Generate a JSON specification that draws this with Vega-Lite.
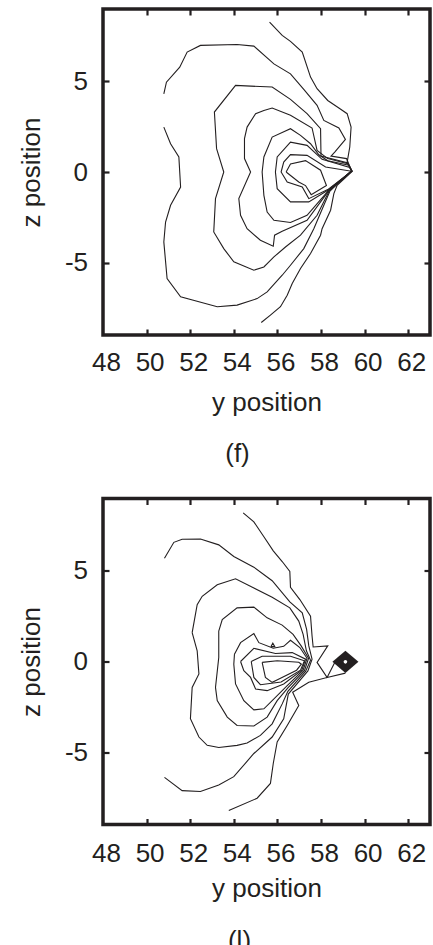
{
  "$schema": "https://vega.github.io/schema/vega-lite/v6.json",
  "padding": {"left": 17, "top": 6, "right": 0, "bottom": 0},
  "background": "white",
  "bounds": "flush",
  "spacing": 163.5,
  "config": {
    "view": {"stroke": "#231f20", "strokeWidth": 3.5},
    "font": "Liberation Sans",
    "axis": {
      "labelFont": "Liberation Sans", "titleFont": "Liberation Sans",
      "labelColor": "#231f20", "titleColor": "#231f20", "tickColor": "#231f20",
      "labelFontSize": 26, "titleFontSize": 26, "titleFontWeight": "normal",
      "domain": false, "grid": false, "tickSize": -6, "tickWidth": 2.2,
      "labelOverlap": false, "labelFlush": false
    }
  },
  "datasets": {
    "contours": [
      {"p":"f","c":"R","o":0,"x":55.64,"y":8.27},{"p":"f","c":"R","o":1,"x":56.22,"y":7.54},{"p":"f","c":"R","o":2,"x":56.60,"y":7.21},{"p":"f","c":"R","o":3,"x":57.14,"y":6.62},{"p":"f","c":"R","o":4,"x":57.52,"y":5.24},{"p":"f","c":"R","o":5,"x":57.82,"y":4.60},{"p":"f","c":"R","o":6,"x":58.31,"y":3.95},{"p":"f","c":"R","o":7,"x":58.82,"y":3.53},{"p":"f","c":"R","o":8,"x":59.20,"y":3.22},{"p":"f","c":"R","o":9,"x":59.38,"y":2.48},{"p":"f","c":"R","o":10,"x":59.32,"y":1.38},{"p":"f","c":"R","o":11,"x":59.20,"y":0.55},{"p":"f","c":"R","o":12,"x":59.43,"y":0.04},{"p":"f","c":"R","o":13,"x":58.74,"y":-0.74},{"p":"f","c":"R","o":14,"x":58.59,"y":-1.19},{"p":"f","c":"R","o":15,"x":58.44,"y":-2.11},{"p":"f","c":"R","o":16,"x":58.05,"y":-3.13},{"p":"f","c":"R","o":17,"x":57.98,"y":-3.49},{"p":"f","c":"R","o":18,"x":57.52,"y":-4.50},{"p":"f","c":"R","o":19,"x":57.06,"y":-5.33},{"p":"f","c":"R","o":20,"x":56.68,"y":-6.16},{"p":"f","c":"R","o":21,"x":56.45,"y":-6.80},{"p":"f","c":"R","o":22,"x":56.14,"y":-7.44},{"p":"f","c":"R","o":23,"x":55.68,"y":-7.90},{"p":"f","c":"R","o":24,"x":55.26,"y":-8.31},
      {"p":"f","c":"C1","o":0,"x":50.79,"y":4.32},{"p":"f","c":"C1","o":1,"x":50.91,"y":4.96},{"p":"f","c":"C1","o":2,"x":51.52,"y":5.79},{"p":"f","c":"C1","o":3,"x":51.86,"y":6.62},{"p":"f","c":"C1","o":4,"x":52.47,"y":6.99},{"p":"f","c":"C1","o":5,"x":54.15,"y":7.04},{"p":"f","c":"C1","o":6,"x":54.92,"y":6.95},{"p":"f","c":"C1","o":7,"x":55.84,"y":5.97},{"p":"f","c":"C1","o":8,"x":56.60,"y":5.42},{"p":"f","c":"C1","o":9,"x":57.21,"y":4.56},{"p":"f","c":"C1","o":10,"x":57.82,"y":3.68},{"p":"f","c":"C1","o":11,"x":58.13,"y":2.85},{"p":"f","c":"C1","o":12,"x":58.82,"y":2.43},{"p":"f","c":"C1","o":13,"x":59.12,"y":1.80},{"p":"f","c":"C1","o":14,"x":58.63,"y":1.10},{"p":"f","c":"C1","o":15,"x":58.46,"y":0.88},{"p":"f","c":"C1","o":16,"x":59.17,"y":0.74},{"p":"f","c":"C1","o":17,"x":59.40,"y":0.07},{"p":"f","c":"C1","o":18,"x":58.41,"y":-1.05},{"p":"f","c":"C1","o":19,"x":58.13,"y":-1.84},{"p":"f","c":"C1","o":20,"x":57.67,"y":-3.13},{"p":"f","c":"C1","o":21,"x":57.21,"y":-4.23},{"p":"f","c":"C1","o":22,"x":56.60,"y":-5.15},{"p":"f","c":"C1","o":23,"x":56.22,"y":-5.70},{"p":"f","c":"C1","o":24,"x":55.53,"y":-6.62},{"p":"f","c":"C1","o":25,"x":55.07,"y":-6.99},{"p":"f","c":"C1","o":26,"x":54.15,"y":-7.35},{"p":"f","c":"C1","o":27,"x":53.24,"y":-7.44},{"p":"f","c":"C1","o":28,"x":51.56,"y":-6.89},{"p":"f","c":"C1","o":29,"x":50.94,"y":-5.88},{"p":"f","c":"C1","o":30,"x":50.79,"y":-3.86},{"p":"f","c":"C1","o":31,"x":50.87,"y":-2.76},{"p":"f","c":"C1","o":32,"x":51.10,"y":-1.84},{"p":"f","c":"C1","o":33,"x":51.56,"y":-0.83},{"p":"f","c":"C1","o":34,"x":51.48,"y":0.83},{"p":"f","c":"C1","o":35,"x":51.10,"y":1.56},{"p":"f","c":"C1","o":36,"x":50.79,"y":2.48},
      {"p":"f","c":"C2","o":0,"x":58.38,"y":-1.03},{"p":"f","c":"C2","o":1,"x":57.82,"y":-2.39},{"p":"f","c":"C2","o":2,"x":57.06,"y":-3.49},{"p":"f","c":"C2","o":3,"x":56.37,"y":-4.14},{"p":"f","c":"C2","o":4,"x":55.84,"y":-4.69},{"p":"f","c":"C2","o":5,"x":55.38,"y":-5.24},{"p":"f","c":"C2","o":6,"x":54.92,"y":-5.42},{"p":"f","c":"C2","o":7,"x":54.00,"y":-4.96},{"p":"f","c":"C2","o":8,"x":53.54,"y":-4.23},{"p":"f","c":"C2","o":9,"x":53.08,"y":-3.31},{"p":"f","c":"C2","o":10,"x":53.16,"y":-1.47},{"p":"f","c":"C2","o":11,"x":53.54,"y":0},{"p":"f","c":"C2","o":12,"x":53.21,"y":1.29},{"p":"f","c":"C2","o":13,"x":53.11,"y":3.31},{"p":"f","c":"C2","o":14,"x":54.08,"y":4.78},{"p":"f","c":"C2","o":15,"x":55.76,"y":4.69},{"p":"f","c":"C2","o":16,"x":56.60,"y":4.01},{"p":"f","c":"C2","o":17,"x":57.36,"y":3.22},{"p":"f","c":"C2","o":18,"x":57.98,"y":2.39},{"p":"f","c":"C2","o":19,"x":58.00,"y":0.88},{"p":"f","c":"C2","o":20,"x":59.20,"y":0.51},{"p":"f","c":"C2","o":21,"x":59.41,"y":0.06},{"p":"f","c":"C2","o":22,"x":58.38,"y":-1.03},
      {"p":"f","c":"C3","o":0,"x":58.36,"y":-1.03},{"p":"f","c":"C3","o":1,"x":57.36,"y":-2.67},{"p":"f","c":"C3","o":2,"x":56.22,"y":-3.27},{"p":"f","c":"C3","o":3,"x":55.87,"y":-3.49},{"p":"f","c":"C3","o":4,"x":55.81,"y":-4.10},{"p":"f","c":"C3","o":5,"x":55.22,"y":-3.77},{"p":"f","c":"C3","o":6,"x":54.61,"y":-3.13},{"p":"f","c":"C3","o":7,"x":54.31,"y":-2.39},{"p":"f","c":"C3","o":8,"x":54.23,"y":-1.47},{"p":"f","c":"C3","o":9,"x":54.77,"y":0},{"p":"f","c":"C3","o":10,"x":54.49,"y":0.74},{"p":"f","c":"C3","o":11,"x":54.49,"y":1.84},{"p":"f","c":"C3","o":12,"x":54.61,"y":2.48},{"p":"f","c":"C3","o":13,"x":55.00,"y":3.22},{"p":"f","c":"C3","o":14,"x":55.38,"y":3.40},{"p":"f","c":"C3","o":15,"x":55.76,"y":3.53},{"p":"f","c":"C3","o":16,"x":56.60,"y":3.13},{"p":"f","c":"C3","o":17,"x":57.59,"y":2.43},{"p":"f","c":"C3","o":18,"x":57.82,"y":1.19},{"p":"f","c":"C3","o":19,"x":58.31,"y":0.74},{"p":"f","c":"C3","o":20,"x":59.23,"y":0.46},{"p":"f","c":"C3","o":21,"x":59.41,"y":0.06},{"p":"f","c":"C3","o":22,"x":58.36,"y":-1.03},
      {"p":"f","c":"C4","o":0,"x":58.35,"y":-1.01},{"p":"f","c":"C4","o":1,"x":57.36,"y":-2.39},{"p":"f","c":"C4","o":2,"x":56.60,"y":-2.79},{"p":"f","c":"C4","o":3,"x":55.84,"y":-2.67},{"p":"f","c":"C4","o":4,"x":55.53,"y":-2.21},{"p":"f","c":"C4","o":5,"x":55.38,"y":-1.29},{"p":"f","c":"C4","o":6,"x":55.30,"y":0},{"p":"f","c":"C4","o":7,"x":55.38,"y":0.83},{"p":"f","c":"C4","o":8,"x":55.76,"y":1.93},{"p":"f","c":"C4","o":9,"x":56.60,"y":2.39},{"p":"f","c":"C4","o":10,"x":57.06,"y":2.02},{"p":"f","c":"C4","o":11,"x":57.52,"y":1.56},{"p":"f","c":"C4","o":12,"x":57.90,"y":0.95},{"p":"f","c":"C4","o":13,"x":58.31,"y":0.62},{"p":"f","c":"C4","o":14,"x":59.28,"y":0.37},{"p":"f","c":"C4","o":15,"x":59.41,"y":0.06},{"p":"f","c":"C4","o":16,"x":58.35,"y":-1.01},
      {"p":"f","c":"C5","o":0,"x":58.33,"y":-0.99},{"p":"f","c":"C5","o":1,"x":57.44,"y":-1.65},{"p":"f","c":"C5","o":2,"x":56.60,"y":-1.65},{"p":"f","c":"C5","o":3,"x":55.99,"y":-0.92},{"p":"f","c":"C5","o":4,"x":55.91,"y":0},{"p":"f","c":"C5","o":5,"x":55.99,"y":0.83},{"p":"f","c":"C5","o":6,"x":56.60,"y":1.65},{"p":"f","c":"C5","o":7,"x":57.36,"y":1.47},{"p":"f","c":"C5","o":8,"x":58.05,"y":0.70},{"p":"f","c":"C5","o":9,"x":59.32,"y":0.25},{"p":"f","c":"C5","o":10,"x":59.41,"y":0.05},{"p":"f","c":"C5","o":11,"x":58.33,"y":-0.99},
      {"p":"f","c":"C6","o":0,"x":58.31,"y":-0.97},{"p":"f","c":"C6","o":1,"x":57.44,"y":-1.47},{"p":"f","c":"C6","o":2,"x":57.14,"y":-0.83},{"p":"f","c":"C6","o":3,"x":56.45,"y":-0.55},{"p":"f","c":"C6","o":4,"x":56.17,"y":0},{"p":"f","c":"C6","o":5,"x":56.29,"y":0.55},{"p":"f","c":"C6","o":6,"x":56.60,"y":0.96},{"p":"f","c":"C6","o":7,"x":57.36,"y":0.92},{"p":"f","c":"C6","o":8,"x":58.21,"y":0.28},{"p":"f","c":"C6","o":9,"x":59.41,"y":0.04},{"p":"f","c":"C6","o":10,"x":58.31,"y":-0.97},
      {"p":"f","c":"C7","o":0,"x":56.40,"y":0},{"p":"f","c":"C7","o":1,"x":56.60,"y":0.44},{"p":"f","c":"C7","o":2,"x":57.29,"y":0.63},{"p":"f","c":"C7","o":3,"x":57.98,"y":0.10},{"p":"f","c":"C7","o":4,"x":58.25,"y":-0.75},{"p":"f","c":"C7","o":5,"x":57.55,"y":-1.25},{"p":"f","c":"C7","o":6,"x":57.29,"y":-0.75},{"p":"f","c":"C7","o":7,"x":56.98,"y":-0.55},{"p":"f","c":"C7","o":8,"x":56.40,"y":0},

      {"p":"l","c":"R","o":0,"x":54.43,"y":8.21},{"p":"l","c":"R","o":1,"x":54.92,"y":7.71},{"p":"l","c":"R","o":2,"x":55.38,"y":6.89},{"p":"l","c":"R","o":3,"x":55.81,"y":6.11},{"p":"l","c":"R","o":4,"x":56.22,"y":5.52},{"p":"l","c":"R","o":5,"x":56.57,"y":4.97},{"p":"l","c":"R","o":6,"x":56.60,"y":4.10},{"p":"l","c":"R","o":7,"x":57.03,"y":3.42},{"p":"l","c":"R","o":8,"x":57.52,"y":2.50},{"p":"l","c":"R","o":9,"x":57.59,"y":1.41},{"p":"l","c":"R","o":10,"x":57.64,"y":0.80},{"p":"l","c":"R","o":11,"x":58.31,"y":0.86},{"p":"l","c":"R","o":12,"x":57.82,"y":-0.05},{"p":"l","c":"R","o":13,"x":58.28,"y":-0.88},{"p":"l","c":"R","o":14,"x":57.44,"y":-1.15},{"p":"l","c":"R","o":15,"x":56.70,"y":-1.70},{"p":"l","c":"R","o":16,"x":56.98,"y":-2.43},{"p":"l","c":"R","o":17,"x":56.45,"y":-3.53},{"p":"l","c":"R","o":18,"x":55.99,"y":-4.44},{"p":"l","c":"R","o":19,"x":55.81,"y":-5.63},{"p":"l","c":"R","o":20,"x":55.68,"y":-6.73},{"p":"l","c":"R","o":21,"x":55.07,"y":-7.55},{"p":"l","c":"R","o":22,"x":53.77,"y":-8.23},
      {"p":"l","c":"S","o":0,"x":58.63,"y":-0.05},{"p":"l","c":"S","o":1,"x":58.28,"y":-0.88},{"p":"l","c":"S","o":2,"x":59.12,"y":-0.64},
      {"p":"l","c":"C1","o":0,"x":50.82,"y":5.70},{"p":"l","c":"C1","o":1,"x":51.25,"y":6.58},{"p":"l","c":"C1","o":2,"x":51.63,"y":6.75},{"p":"l","c":"C1","o":3,"x":52.47,"y":6.76},{"p":"l","c":"C1","o":4,"x":53.31,"y":6.44},{"p":"l","c":"C1","o":5,"x":54.00,"y":5.80},{"p":"l","c":"C1","o":6,"x":54.92,"y":5.21},{"p":"l","c":"C1","o":7,"x":55.76,"y":4.46},{"p":"l","c":"C1","o":8,"x":56.57,"y":3.29},{"p":"l","c":"C1","o":9,"x":57.14,"y":2.69},{"p":"l","c":"C1","o":10,"x":57.34,"y":1.77},{"p":"l","c":"C1","o":11,"x":57.44,"y":0.86},{"p":"l","c":"C1","o":12,"x":57.59,"y":0.13},{"p":"l","c":"C1","o":13,"x":57.40,"y":-0.52},{"p":"l","c":"C1","o":14,"x":56.50,"y":-1.80},{"p":"l","c":"C1","o":15,"x":56.29,"y":-3.16},{"p":"l","c":"C1","o":16,"x":55.76,"y":-4.17},{"p":"l","c":"C1","o":17,"x":54.92,"y":-5.08},{"p":"l","c":"C1","o":18,"x":54.00,"y":-6.36},{"p":"l","c":"C1","o":19,"x":53.31,"y":-6.82},{"p":"l","c":"C1","o":20,"x":52.47,"y":-7.18},{"p":"l","c":"C1","o":21,"x":51.63,"y":-7.13},{"p":"l","c":"C1","o":22,"x":50.82,"y":-6.40},
      {"p":"l","c":"C2","o":0,"x":52.09,"y":1.59},{"p":"l","c":"C2","o":1,"x":52.32,"y":3.14},{"p":"l","c":"C2","o":2,"x":52.55,"y":3.60},{"p":"l","c":"C2","o":3,"x":53.24,"y":4.24},{"p":"l","c":"C2","o":4,"x":54.08,"y":4.57},{"p":"l","c":"C2","o":5,"x":54.92,"y":4.06},{"p":"l","c":"C2","o":6,"x":55.76,"y":3.55},{"p":"l","c":"C2","o":7,"x":56.57,"y":2.96},{"p":"l","c":"C2","o":8,"x":56.98,"y":2.23},{"p":"l","c":"C2","o":9,"x":57.18,"y":1.50},{"p":"l","c":"C2","o":10,"x":57.33,"y":0.59},{"p":"l","c":"C2","o":11,"x":57.52,"y":0.07},{"p":"l","c":"C2","o":12,"x":57.29,"y":-0.55},{"p":"l","c":"C2","o":13,"x":56.48,"y":-1.65},{"p":"l","c":"C2","o":14,"x":56.22,"y":-2.34},{"p":"l","c":"C2","o":15,"x":55.76,"y":-3.44},{"p":"l","c":"C2","o":16,"x":55.22,"y":-4.08},{"p":"l","c":"C2","o":17,"x":54.61,"y":-4.50},{"p":"l","c":"C2","o":18,"x":54.15,"y":-4.63},{"p":"l","c":"C2","o":19,"x":53.31,"y":-4.75},{"p":"l","c":"C2","o":20,"x":52.78,"y":-4.63},{"p":"l","c":"C2","o":21,"x":52.40,"y":-4.17},{"p":"l","c":"C2","o":22,"x":52.01,"y":-3.16},{"p":"l","c":"C2","o":23,"x":52.09,"y":-1.43},{"p":"l","c":"C2","o":24,"x":52.40,"y":-0.69},{"p":"l","c":"C2","o":25,"x":52.32,"y":0.59},{"p":"l","c":"C2","o":26,"x":52.09,"y":1.59},
      {"p":"l","c":"C3","o":0,"x":53.31,"y":1.68},{"p":"l","c":"C3","o":1,"x":53.47,"y":2.32},{"p":"l","c":"C3","o":2,"x":54.15,"y":2.96},{"p":"l","c":"C3","o":3,"x":54.92,"y":3.00},{"p":"l","c":"C3","o":4,"x":55.53,"y":2.41},{"p":"l","c":"C3","o":5,"x":56.22,"y":2.01},{"p":"l","c":"C3","o":6,"x":56.72,"y":1.50},{"p":"l","c":"C3","o":7,"x":57.09,"y":0.86},{"p":"l","c":"C3","o":8,"x":57.43,"y":0.18},{"p":"l","c":"C3","o":9,"x":57.24,"y":-0.51},{"p":"l","c":"C3","o":10,"x":56.48,"y":-1.46},{"p":"l","c":"C3","o":11,"x":55.99,"y":-2.16},{"p":"l","c":"C3","o":12,"x":55.53,"y":-3.07},{"p":"l","c":"C3","o":13,"x":54.92,"y":-3.56},{"p":"l","c":"C3","o":14,"x":54.15,"y":-3.53},{"p":"l","c":"C3","o":15,"x":53.70,"y":-3.07},{"p":"l","c":"C3","o":16,"x":53.24,"y":-2.16},{"p":"l","c":"C3","o":17,"x":53.16,"y":-1.43},{"p":"l","c":"C3","o":18,"x":53.31,"y":0.22},{"p":"l","c":"C3","o":19,"x":53.31,"y":1.68},
      {"p":"l","c":"C4","o":0,"x":54.03,"y":0.40},{"p":"l","c":"C4","o":1,"x":54.31,"y":1.04},{"p":"l","c":"C4","o":2,"x":54.92,"y":1.54},{"p":"l","c":"C4","o":3,"x":55.15,"y":1.04},{"p":"l","c":"C4","o":4,"x":55.81,"y":0.73},{"p":"l","c":"C4","o":5,"x":56.29,"y":0.84},{"p":"l","c":"C4","o":6,"x":56.60,"y":1.17},{"p":"l","c":"C4","o":7,"x":57.03,"y":0.77},{"p":"l","c":"C4","o":8,"x":57.36,"y":0.18},{"p":"l","c":"C4","o":9,"x":57.18,"y":-0.48},{"p":"l","c":"C4","o":10,"x":56.45,"y":-1.33},{"p":"l","c":"C4","o":11,"x":55.76,"y":-2.16},{"p":"l","c":"C4","o":12,"x":55.38,"y":-2.61},{"p":"l","c":"C4","o":13,"x":54.92,"y":-2.67},{"p":"l","c":"C4","o":14,"x":54.46,"y":-2.16},{"p":"l","c":"C4","o":15,"x":54.08,"y":-1.24},{"p":"l","c":"C4","o":16,"x":54.00,"y":-0.15},{"p":"l","c":"C4","o":17,"x":54.03,"y":0.40},
      {"p":"l","c":"C5","o":0,"x":54.31,"y":0},{"p":"l","c":"C5","o":1,"x":54.92,"y":0.73},{"p":"l","c":"C5","o":2,"x":55.91,"y":0.44},{"p":"l","c":"C5","o":3,"x":56.68,"y":0.49},{"p":"l","c":"C5","o":4,"x":57.29,"y":0.13},{"p":"l","c":"C5","o":5,"x":57.12,"y":-0.48},{"p":"l","c":"C5","o":6,"x":56.29,"y":-1.24},{"p":"l","c":"C5","o":7,"x":55.53,"y":-1.61},{"p":"l","c":"C5","o":8,"x":55.00,"y":-1.52},{"p":"l","c":"C5","o":9,"x":54.77,"y":-0.88},{"p":"l","c":"C5","o":10,"x":54.46,"y":-0.51},{"p":"l","c":"C5","o":11,"x":54.31,"y":0},
      {"p":"l","c":"C6","o":0,"x":54.80,"y":0},{"p":"l","c":"C6","o":1,"x":55.30,"y":0.29},{"p":"l","c":"C6","o":2,"x":56.60,"y":0.29},{"p":"l","c":"C6","o":3,"x":57.24,"y":0.04},{"p":"l","c":"C6","o":4,"x":57.06,"y":-0.48},{"p":"l","c":"C6","o":5,"x":56.17,"y":-1.13},{"p":"l","c":"C6","o":6,"x":55.22,"y":-1.28},{"p":"l","c":"C6","o":7,"x":54.92,"y":-0.88},{"p":"l","c":"C6","o":8,"x":54.80,"y":0},
      {"p":"l","c":"C7","o":0,"x":55.30,"y":-0.05},{"p":"l","c":"C7","o":1,"x":55.99,"y":0.04},{"p":"l","c":"C7","o":2,"x":56.98,"y":-0.04},{"p":"l","c":"C7","o":3,"x":57.10,"y":-0.15},{"p":"l","c":"C7","o":4,"x":56.88,"y":-0.48},{"p":"l","c":"C7","o":5,"x":55.91,"y":-1.06},{"p":"l","c":"C7","o":6,"x":55.76,"y":-1.15},{"p":"l","c":"C7","o":7,"x":55.45,"y":-0.88},{"p":"l","c":"C7","o":8,"x":55.30,"y":-0.05},
      {"p":"l","c":"T","o":0,"x":55.70,"y":0.82},{"p":"l","c":"T","o":1,"x":55.79,"y":1.01},{"p":"l","c":"T","o":2,"x":55.88,"y":0.82},{"p":"l","c":"T","o":3,"x":55.70,"y":0.82}
    ],
    "peaks": [
      {"p":"l","x":59.12,"y":-0.02}
    ]
  },
  "vconcat": [
    {
      "width": 327, "height": 326,
      "title": {"text": "(f)", "orient": "bottom", "anchor": "middle", "frame": "group", "dx": -29, "offset": 26, "fontSize": 26, "fontWeight": "normal", "font": "Liberation Sans", "color": "#231f20", "baseline": "top"},
      "resolve": {"axis": {"x": "independent", "y": "independent"}},
      "layer": [
        {
          "data": {"name": "contours"},
          "transform": [{"filter": "datum.p === 'f'"}],
          "mark": {"type": "line", "color": "#231f20", "strokeWidth": 1.1, "clip": true},
          "encoding": {
            "x": {"field": "x", "type": "quantitative", "scale": {"domain": [48, 63], "nice": false, "zero": false},
                  "axis": {"orient": "bottom", "values": [48,50,52,54,56,58,60,62], "ticks": false, "labelPadding": 14.5, "labelOffset": 3, "title": "y position", "titlePadding": 13.5}},
            "y": {"field": "y", "type": "quantitative", "scale": {"domain": [-9, 9], "nice": false, "zero": false},
                  "axis": {"orient": "left", "values": [-5,0,5], "ticks": false, "labelPadding": 15.5, "labelExpr": "replace(datum.label, '\u2212', '-')", "title": "z position", "titlePadding": 19.5}},
            "detail": {"field": "c"},
            "order": {"field": "o"}
          }
        },
        {
          "data": {"name": "contours"},
          "transform": [{"filter": "datum.p === 'f'"}],
          "mark": {"type": "line", "opacity": 0},
          "encoding": {
            "x": {"field": "x", "type": "quantitative", "axis": {"orient": "bottom", "values": [50,52,54,56,58,60,62], "labels": false, "title": null}},
            "y": {"field": "y", "type": "quantitative", "axis": {"orient": "left", "values": [-5,0,5], "labels": false, "title": null}},
            "detail": {"field": "c"},
            "order": {"field": "o"}
          }
        },
        {
          "data": {"name": "contours"},
          "transform": [{"filter": "datum.p === 'f'"}],
          "mark": {"type": "line", "opacity": 0},
          "encoding": {
            "x": {"field": "x", "type": "quantitative", "axis": {"orient": "top", "values": [50,52,54,56,58,60,62], "labels": false, "title": null}},
            "y": {"field": "y", "type": "quantitative", "axis": {"orient": "right", "values": [-5,0,5], "labels": false, "title": null}},
            "detail": {"field": "c"},
            "order": {"field": "o"}
          }
        }
      ]
    },
    {
      "width": 327, "height": 326,
      "title": {"text": "(l)", "orient": "bottom", "anchor": "middle", "frame": "group", "dx": -27, "offset": 26, "fontSize": 26, "fontWeight": "normal", "font": "Liberation Sans", "color": "#231f20", "baseline": "top"},
      "resolve": {"axis": {"x": "independent", "y": "independent"}},
      "layer": [
        {
          "data": {"name": "contours"},
          "transform": [{"filter": "datum.p === 'l'"}],
          "mark": {"type": "line", "color": "#231f20", "strokeWidth": 1.1, "clip": true},
          "encoding": {
            "x": {"field": "x", "type": "quantitative", "scale": {"domain": [48, 63], "nice": false, "zero": false},
                  "axis": {"orient": "bottom", "values": [48,50,52,54,56,58,60,62], "ticks": false, "labelPadding": 16, "labelOffset": 3, "title": "y position", "titlePadding": 9}},
            "y": {"field": "y", "type": "quantitative", "scale": {"domain": [-9, 9], "nice": false, "zero": false},
                  "axis": {"orient": "left", "values": [-5,0,5], "ticks": false, "labelPadding": 15.5, "labelExpr": "replace(datum.label, '\u2212', '-')", "title": "z position", "titlePadding": 19.5}},
            "detail": {"field": "c"},
            "order": {"field": "o"}
          }
        },
        {
          "data": {"name": "contours"},
          "transform": [{"filter": "datum.p === 'l'"}],
          "mark": {"type": "line", "opacity": 0},
          "encoding": {
            "x": {"field": "x", "type": "quantitative", "axis": {"orient": "bottom", "values": [50,52,54,56,58,60,62], "labels": false, "title": null}},
            "y": {"field": "y", "type": "quantitative", "axis": {"orient": "left", "values": [-5,0,5], "labels": false, "title": null}},
            "detail": {"field": "c"},
            "order": {"field": "o"}
          }
        },
        {
          "data": {"name": "contours"},
          "transform": [{"filter": "datum.p === 'l'"}],
          "mark": {"type": "line", "opacity": 0},
          "encoding": {
            "x": {"field": "x", "type": "quantitative", "axis": {"orient": "top", "values": [50,52,54,56,58,60,62], "labels": false, "title": null}},
            "y": {"field": "y", "type": "quantitative", "axis": {"orient": "right", "values": [-5,0,5], "labels": false, "title": null}},
            "detail": {"field": "c"},
            "order": {"field": "o"}
          }
        },
        {
          "data": {"name": "peaks"},
          "mark": {"type": "point", "shape": "M-1,0L0,-0.85L1,0L0,0.85Z", "filled": true, "color": "#231f20", "opacity": 1, "size": 676},
          "encoding": {
            "x": {"field": "x", "type": "quantitative", "axis": null},
            "y": {"field": "y", "type": "quantitative", "axis": null}
          }
        },
        {
          "data": {"name": "peaks"},
          "mark": {"type": "circle", "color": "white", "opacity": 1, "size": 13},
          "encoding": {
            "x": {"field": "x", "type": "quantitative", "axis": null},
            "y": {"field": "y", "type": "quantitative", "axis": null}
          }
        }
      ]
    }
  ]
}
